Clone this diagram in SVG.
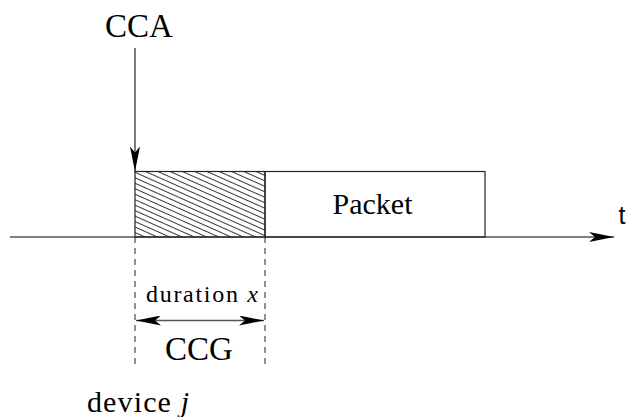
<svg xmlns="http://www.w3.org/2000/svg" width="627" height="417" viewBox="0 0 627 417">
<style>
.serif{font-family:"Liberation Serif","DejaVu Serif",serif;fill:#000}
.sans{font-family:"Liberation Sans","DejaVu Sans",sans-serif;fill:#000}
.line{stroke:#222;stroke-width:1.2;fill:none}
.dash{stroke:#222;stroke-width:1;stroke-dasharray:6,5;fill:none}
</style>
<defs>
<pattern id="hatch" width="6" height="5" patternUnits="userSpaceOnUse" patternTransform="rotate(24)">
<line x1="0" y1="2.5" x2="6" y2="2.5" stroke="#222" stroke-width="0.9"/>
</pattern>
<marker id="arr" viewBox="0 0 25 10" refX="25" refY="5" markerWidth="25" markerHeight="10" markerUnits="userSpaceOnUse" orient="auto-start-reverse">
<path d="M0,0 L25,5 L0,10 L6,5 Z" fill="#000"/>
</marker>
<marker id="arrv" viewBox="0 0 10 25" refX="5" refY="25" markerWidth="10" markerHeight="25" markerUnits="userSpaceOnUse" orient="0">
<path d="M0,0 L5,25 L10,0 L5,6 Z" fill="#000"/>
</marker>
</defs>
<g id="connectors">
<line x1="10" y1="237" x2="614" y2="237" marker-end="url(#arr)" stroke="#555" stroke-width="1.6"/>
<line class="line" x1="135" y1="48" x2="135" y2="171.5" marker-end="url(#arrv)"/>
<line class="dash" x1="135" y1="237" x2="135" y2="368"/>
<line class="dash" x1="265" y1="237" x2="265" y2="368"/>
<line x1="136" y1="320.5" x2="264" y2="320.5" stroke="#555" stroke-width="1.4" marker-start="url(#arr)" marker-end="url(#arr)"/>
</g>
<g id="ccg-box">
<rect x="135" y="171.5" width="130" height="65.5" fill="url(#hatch)" stroke="#222" stroke-width="1.2"/>
</g>
<g id="packet">
<rect x="265" y="171.5" width="220" height="65.5" fill="none" stroke="#222" stroke-width="1.2"/>
<text class="serif" x="372.5" y="213.5" font-size="30" text-anchor="middle">Packet</text>
</g>
<g id="labels">
<text class="serif" x="139" y="37" font-size="33" text-anchor="middle">CCA</text>
<text class="sans" x="622" y="224" font-size="25" text-anchor="middle">t</text>
<text class="serif" x="146" y="302" font-size="24" textLength="112" fill="#333">duration <tspan font-style="italic">x</tspan></text>
<text class="serif" x="199" y="360" font-size="33" text-anchor="middle">CCG</text>
<text class="serif" x="87" y="412" font-size="30" textLength="102" fill="#222">device <tspan font-style="italic">j</tspan></text>
</g>
</svg>
